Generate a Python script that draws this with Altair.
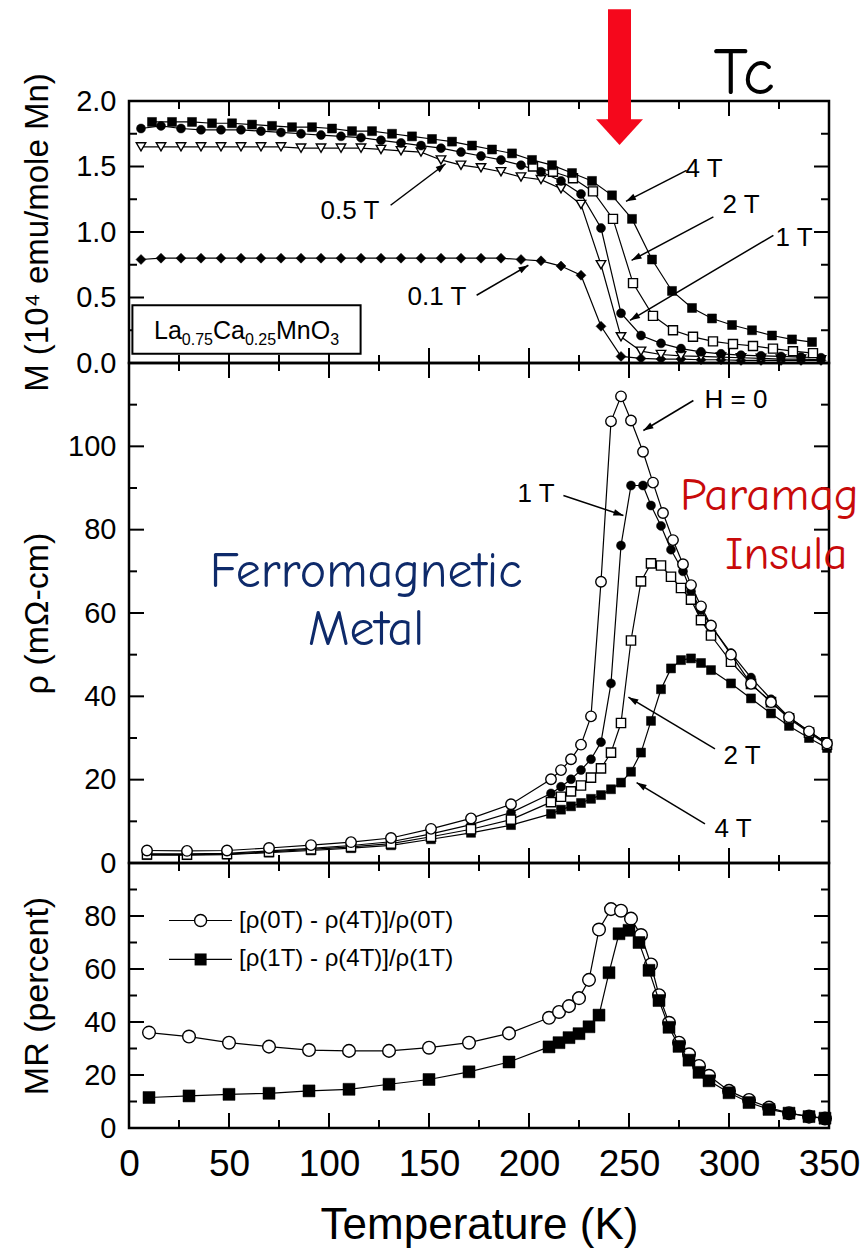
import math
import altair as alt
import pandas as pd

# ---------------- magnetisation M (10^4 emu / mole Mn) ----------------
T_M_FINE = [6, 16, 26, 36, 46, 56, 66, 76, 86, 96, 106, 116, 126, 136, 146, 156, 166, 176, 186, 196,
            206, 216, 226, 236, 246, 256, 266, 276, 286, 296, 306, 316, 326, 336, 346]
M_01T = [0.79, 0.80, 0.80, 0.80, 0.80, 0.80, 0.80, 0.80, 0.80, 0.80, 0.80, 0.80, 0.80, 0.80, 0.80, 0.80, 0.80, 0.80, 0.80, 0.79,
         0.78, 0.74, 0.67, 0.28, 0.05, 0.035, 0.03, 0.03, 0.025, 0.025, 0.02, 0.02, 0.02, 0.02, 0.02]
M_05T = [1.65, 1.65, 1.65, 1.65, 1.65, 1.65, 1.65, 1.65, 1.64, 1.64, 1.64, 1.64, 1.63, 1.62, 1.61, 1.55, 1.51, 1.49, 1.46, 1.42,
         1.40, 1.33, 1.21, 0.75, 0.20, 0.09, 0.065, 0.055, 0.05, 0.045, 0.04, 0.035, 0.03, 0.03, 0.025]
M_1T = [1.79, 1.81, 1.79, 1.78, 1.78, 1.78, 1.77, 1.76, 1.75, 1.74, 1.73, 1.72, 1.70, 1.68, 1.66, 1.64, 1.61, 1.58, 1.55, 1.51,
        1.46, 1.39, 1.29, 1.03, 0.38, 0.21, 0.15, 0.11, 0.085, 0.07, 0.06, 0.055, 0.05, 0.045, 0.04]
T_M_2T = [202, 212, 222, 232, 242, 252, 262, 272, 282, 292, 302, 312, 322, 332, 342]
M_2T = [1.50, 1.46, 1.41, 1.31, 1.10, 0.61, 0.36, 0.25, 0.20, 0.165, 0.145, 0.13, 0.11, 0.09, 0.075]
T_M_4T = [11.5, 21.5, 31.5, 41.5, 51.5, 61.5, 71.5, 81.5, 91.5, 101.5, 111.5, 121.5, 131.5, 141.5, 151.5, 161.5, 171.5,
          181.5, 191.5, 201.5, 211.5, 221.5, 231.5, 241.5, 251.5, 261.5, 271.5, 281.5, 291.5, 301.5, 311.5, 321.5, 331.5, 341.5]
M_4T = [1.84, 1.84, 1.84, 1.83, 1.83, 1.82, 1.81, 1.80, 1.80, 1.79, 1.77, 1.77, 1.75, 1.73, 1.71, 1.69, 1.66,
        1.63, 1.60, 1.55, 1.51, 1.45, 1.39, 1.28, 1.10, 0.79, 0.55, 0.42, 0.34, 0.29, 0.25, 0.21, 0.18, 0.16]

# ---------------- resistivity rho (mOhm-cm) ----------------
T_RHO_0T = [9, 29, 49, 70, 91, 111, 131, 151, 171, 191, 211, 216, 221, 226, 231, 236, 241, 246, 251, 257,
            262, 267, 272, 277, 281, 286, 291, 301, 311, 321, 330, 340, 349]
RHO_0T = [3.0, 2.9, 3.0, 3.6, 4.3, 5.0, 6.0, 8.2, 10.7, 14.1, 20.1, 22.3, 24.9, 28.4, 35.2, 67.5, 106.0, 112.0, 106.2, 98.7,
          91.3, 84.0, 77.5, 71.7, 66.7, 61.6, 57.0, 50.0, 43.0, 38.6, 35.0, 31.6, 28.7]
T_RHO_1T = [9, 29, 49, 70, 91, 111, 131, 151, 171, 191, 211, 216, 221, 226, 231, 236, 241, 246, 251, 257,
            261, 266, 271, 277, 281, 286, 291, 301, 311, 321, 330, 340, 349]
RHO_1T = [2.2, 2.2, 2.3, 2.9, 3.5, 4.2, 5.1, 7.0, 9.2, 12.1, 16.7, 18.3, 20.1, 22.3, 24.9, 29.0, 43.1, 76.2, 90.6, 90.6,
          85.8, 80.9, 75.2, 70.0, 65.2, 60.7, 56.9, 50.4, 44.5, 39.3, 35.0, 31.6, 28.7]
T_RHO_2T = [9, 29, 49, 70, 91, 111, 131, 151, 171, 191, 211, 216, 221, 226, 231, 236, 241, 246, 251, 256,
            261, 266, 271, 276, 281, 286, 291, 301, 311, 321, 330, 340, 349]
RHO_2T = [2.05, 2.0, 2.15, 2.65, 3.25, 3.85, 4.65, 6.3, 8.1, 10.4, 14.6, 15.9, 17.2, 18.6, 20.5, 22.7, 26.5, 33.6, 53.4, 67.6,
          71.9, 71.4, 68.7, 66.0, 63.2, 58.3, 54.6, 48.3, 43.0, 38.6, 34.7, 31.3, 28.4]
T_RHO_4T = [9, 29, 49, 70, 91, 111, 131, 151, 171, 191, 211, 216, 221, 226, 231, 236, 241, 246, 251, 256,
            261, 266, 271, 276, 281, 286, 291, 301, 311, 321, 330, 340, 349]
RHO_4T = [1.9, 1.9, 2.0, 2.5, 3.0, 3.55, 4.25, 5.7, 7.25, 9.1, 11.8, 12.8, 13.6, 14.4, 15.4, 16.3, 17.7, 19.3, 21.9, 26.5,
          34.1, 41.7, 46.7, 48.7, 49.1, 48.0, 46.3, 43.1, 39.5, 35.9, 32.9, 30.0, 27.6]

# ---------------- magnetoresistance MR (percent) ----------------
T_MR_0T = [10, 30, 50, 70, 90, 110, 130, 150, 170, 190, 210, 215, 220, 225, 230, 235, 241, 246, 251, 256,
           261, 265, 270, 275, 280, 285, 290, 300, 310, 320, 330, 340, 348]
MR_0T = [36.0, 34.5, 32.2, 30.7, 29.4, 29.1, 29.1, 30.3, 32.2, 35.7, 41.6, 43.8, 46.0, 49.0, 55.9, 74.9, 82.6, 82.0, 79.0, 72.8,
         61.7, 50.1, 39.7, 32.2, 27.8, 23.4, 19.7, 14.0, 10.6, 7.7, 5.6, 4.3, 3.6]
T_MR_1T = [10, 30, 50, 70, 90, 110, 130, 150, 170, 190, 210, 215, 220, 225, 230, 235, 240, 245, 250, 255,
           260, 265, 270, 275, 280, 285, 290, 300, 310, 320, 330, 340, 348]
MR_1T = [11.5, 12.1, 12.7, 13.1, 14.0, 14.6, 16.5, 18.3, 21.2, 24.9, 30.6, 32.2, 34.1, 35.6, 38.2, 42.6, 58.6, 73.3, 74.6, 70.0,
         59.5, 48.1, 38.0, 30.8, 25.6, 21.0, 17.8, 13.3, 9.6, 7.0, 5.6, 4.3, 3.7]

# ---------------- annotations (data coordinates) ----------------
M_LABELS = ["4 T", "2 T", "1 T", "0.5 T", "0.1 T"]
M_LABEL_T = [287.5, 306, 332.5, 110.5, 154]
M_LABEL_V = [1.48, 1.206, 0.954, 1.16, 0.504]
M_ARROW_T0 = [278.8, 292.2, 322.2, 130.8, 173.8]
M_ARROW_V0 = [1.471, 1.115, 0.975, 1.204, 0.517]
M_ARROW_T1 = [248.5, 251.3, 250.5, 158.3, 199.7]
M_ARROW_V1 = [1.234, 0.784, 0.326, 1.521, 0.746]

RHO_LABELS = ["H = 0", "1 T", "2 T", "4 T"]
RHO_LABEL_T = [303.5, 203.5, 306.5, 302]
RHO_LABEL_V = [111.1, 88.6, 25.7, 8.2]
RHO_ARROW_T0 = [282.2, 217.2, 293.0, 288.0]
RHO_ARROW_V0 = [111.0, 88.2, 27.4, 9.4]
RHO_ARROW_T1 = [257.2, 247.2, 249.7, 253.8]
RHO_ARROW_V1 = [103.8, 83.4, 39.8, 19.3]

TC_ARROW_T = [239.5, 251.0]
TC_ARROW_V = [2.70, 1.84, 1.664]
TC_TEXT = ["Tc"]
TC_TEXT_T = [307.5]
TC_TEXT_V = [2.053]

FM_TEXT = ["Ferromagnetic\nMetal"]
FM_T = [118.5]
FM_V = [66.2]
PM_TEXT = ["Paramagnetic", "Insulator"]
PM_T = [275.5, 298.0]
PM_V = [84.7, 70.6]

SAMPLE_PIECES = ["La", "0.75", "Ca", "0.25", "MnO", "3"]
SAMPLE_SUB = [False, True, False, True, False, True]
SAMPLE_T = [12.5]
SAMPLE_V = [0.183]
SAMPLE_BOX_T = [1.7, 115.8]
SAMPLE_BOX_V = [0.071, 0.44]

LEGEND_TEXT = ["[ρ(0T) - ρ(4T)]/ρ(0T)", "[ρ(1T) - ρ(4T)]/ρ(1T)"]
LEGEND_V = [78.3, 63.6]
LEGEND_LINE_T = [20, 51.5]
LEGEND_MARK_T = [35.8]
LEGEND_TEXT_T = [55]

# ---------------- styling / geometry ----------------
SANS = "Liberation Sans, Arial, Helvetica, sans-serif"
HAND = "Comic Sans MS, Comic Neue, Lato, sans-serif"
RED = "#F5081C"
NAVY = "#0E2A6A"
DARK_RED = "#C80A0A"

W = 700
H_TOP, H_MID, H_BOT = 262, 500, 265
T_DOM = [0, 350]
M_DOM = [0, 2.0]
RHO_DOM = [0, 120]
MR_DOM = [0, 100]
SX = W / (T_DOM[1] - T_DOM[0])
PLOT_LEFT = 130    # left edge of the plotting area on the page
PAGE_RIGHT = 862   # page edge; text running past it is truncated there

XS = alt.Scale(domain=T_DOM, nice=False, zero=False)
X_MAJOR = [0, 50, 100, 150, 200, 250, 300, 350]
X_MINOR = [25, 75, 125, 175, 225, 275, 325]
MAJOR_LEN, MINOR_LEN = 15, 8
HEAD = "M0,0L-1,3L1,3Z"          # arrowhead with its tip at the origin
TC_HEAD = "M0,0L-1,-1.1L1,-1.1Z"  # downward head of the Tc marker

ARIAL_W = {"L": .556, "a": .556, "C": .722, "M": .833, "n": .556, "O": .778,
           "0": .556, "2": .556, "3": .556, "5": .556, "7": .556, ".": .278}


def yscale(dom):
    return alt.Scale(domain=dom, nice=False, zero=False)


def xy(xf, yf, ys):
    return dict(x=alt.X(f"{xf}:Q", scale=XS, axis=None),
                y=alt.Y(f"{yf}:Q", scale=ys, axis=None))


def frame_ticks(ydom, height, y_major, y_minor):
    """Inward-pointing major/minor ticks on all four sides of a panel."""
    ys = yscale(ydom)
    out = []
    for vals, L in [(X_MAJOR, MAJOR_LEN), (X_MINOR, MINOR_LEN)]:
        base = alt.Chart(pd.DataFrame({"T": vals})).mark_rule(color="black", strokeWidth=2)
        xenc = alt.X("T:Q", scale=XS, axis=None)
        out.append(base.encode(x=xenc, y=alt.value(height), y2=alt.value(height - L)))
        out.append(base.encode(x=xenc, y=alt.value(0), y2=alt.value(L)))
    for vals, L in [(y_major, MAJOR_LEN), (y_minor, MINOR_LEN)]:
        base = alt.Chart(pd.DataFrame({"v": vals})).mark_rule(color="black", strokeWidth=2)
        yenc = alt.Y("v:Q", scale=ys, axis=None)
        out.append(base.encode(y=yenc, x=alt.value(0), x2=alt.value(L)))
        out.append(base.encode(y=yenc, x=alt.value(W), x2=alt.value(W - L)))
    return out


def label_layer(ydom, y_values, y_fmt, y_title, y_title_size, with_x):
    ys = yscale(ydom)
    helper = pd.DataFrame({"T": T_DOM, "v": ydom})
    y_axis = alt.Axis(orient="left", values=y_values, format=y_fmt, ticks=False, tickSize=0,
                      domain=False, grid=False, labelFont=SANS, labelFontSize=29,
                      labelColor="black", labelPadding=13, title=y_title, titleFont=SANS,
                      titleFontSize=y_title_size, titleFontWeight="normal", titleColor="black",
                      titleX=-92, titleBaseline="middle")
    if with_x:
        x_axis = alt.Axis(orient="bottom", values=X_MAJOR, format="d", ticks=False, tickSize=0,
                          domain=False, grid=False, labelFont=SANS, labelFontSize=37,
                          labelColor="black", labelPadding=18, labelFlush=False, labelOverlap=False,
                          title="Temperature (K)", titleFont=SANS, titleFontSize=44,
                          titleFontWeight="normal", titleColor="black", titleY=110,
                          titleBaseline="alphabetic")
        x_enc = alt.X("T:Q", scale=XS, axis=x_axis)
    else:
        x_enc = alt.X("T:Q", scale=XS, axis=None)
    return alt.Chart(helper).mark_point(opacity=0).encode(x=x_enc, y=alt.Y("v:Q", scale=ys, axis=y_axis))


def series(T, V, ys, shape, hollow, size):
    df = pd.DataFrame({"T": T, "v": V})
    line = alt.Chart(df).mark_line(color="black", strokeWidth=1.2).encode(**xy("T", "v", ys))
    if hollow:
        mk = alt.Chart(df).mark_point(shape=shape, filled=True, fill="white", stroke="black",
                                      strokeWidth=1.4, size=size, opacity=1)
    else:
        mk = alt.Chart(df).mark_point(shape=shape, filled=True, fill="black", stroke="black",
                                      strokeWidth=0.5, size=size, opacity=1)
    return [line, mk.encode(**xy("T", "v", ys))]


def arrows(ys, sy, t0, v0, t1, v1):
    ang = [(math.degrees(math.atan2((b - a) * SX, (d - c) * sy)) + 360) % 360
           for a, b, c, d in zip(t0, t1, v0, v1)]
    df = pd.DataFrame({"t0": t0, "v0": v0, "t1": t1, "v1": v1, "ang": ang})
    shaft = alt.Chart(df).mark_rule(color="black", strokeWidth=1.5).encode(
        x=alt.X("t0:Q", scale=XS, axis=None), y=alt.Y("v0:Q", scale=ys, axis=None),
        x2="t1:Q", y2="v1:Q")
    head = alt.Chart(df).mark_point(shape=HEAD, filled=True, color="black", size=44, opacity=1).encode(
        angle=alt.Angle("ang:Q", scale=None), **xy("t1", "v1", ys))
    return [shaft, head]


def text_labels(ys, txt, t, v, size=26):
    df = pd.DataFrame({"t": t, "v": v, "txt": txt})
    return alt.Chart(df).mark_text(font=SANS, fontSize=size, color="black", align="center",
                                   baseline="middle").encode(text="txt:N", **xy("t", "v", ys))


def panel(ticks, labels, rest, height):
    return (alt.layer(*ticks, labels, *rest)
            .resolve_axis(x="independent", y="independent")
            .properties(width=W, height=height))


# ---------------- top panel: M(T) ----------------
ys_m = yscale(M_DOM)
sy_m = H_TOP / (M_DOM[1] - M_DOM[0])
top_ticks = frame_ticks(M_DOM, H_TOP, [0.5, 1.0, 1.5], [0.25, 0.75, 1.25, 1.75])
top_labels = label_layer(M_DOM, [0, 0.5, 1.0, 1.5, 2.0], ".1f", "M (10⁴ emu/mole Mn)", 33, False)
top_layers = []

box_df = pd.DataFrame({"t0": [SAMPLE_BOX_T[0]], "t1": [SAMPLE_BOX_T[1]],
                       "v0": [SAMPLE_BOX_V[0]], "v1": [SAMPLE_BOX_V[1]]})
top_layers.append(alt.Chart(box_df).mark_rect(fill="white", stroke="black", strokeWidth=2).encode(
    x=alt.X("t0:Q", scale=XS, axis=None), x2="t1:Q",
    y=alt.Y("v0:Q", scale=ys_m, axis=None), y2="v1:Q"))
sample_df = pd.DataFrame({"t": SAMPLE_T, "v": SAMPLE_V})
offset = 0.0
for piece, sub in zip(SAMPLE_PIECES, SAMPLE_SUB):
    fs = 16 if sub else 25
    top_layers.append(alt.Chart(sample_df).mark_text(
        text=piece, font=SANS, fontSize=fs, color="black", align="left", baseline="alphabetic",
        dx=offset, dy=6 if sub else 0).encode(**xy("t", "v", ys_m)))
    offset += sum(ARIAL_W[c] for c in piece) * fs

top_layers += series(T_M_FINE, M_01T, ys_m, "diamond", False, 100)
top_layers += series(T_M_FINE, M_05T, ys_m, "triangle-down", True, 90)
top_layers += series(T_M_FINE, M_1T, ys_m, "circle", False, 81)
top_layers += series(T_M_2T, M_2T, ys_m, "square", True, 81)
top_layers += series(T_M_4T, M_4T, ys_m, "square", False, 81)
top_layers += arrows(ys_m, sy_m, M_ARROW_T0, M_ARROW_V0, M_ARROW_T1, M_ARROW_V1)
top_layers.append(text_labels(ys_m, M_LABELS, M_LABEL_T, M_LABEL_V))

tc_df = pd.DataFrame({"t0": [TC_ARROW_T[0]], "t1": [TC_ARROW_T[1]], "tm": [sum(TC_ARROW_T) / 2],
                      "top": [TC_ARROW_V[0]], "base": [TC_ARROW_V[1]], "tip": [TC_ARROW_V[2]]})
top_layers.append(alt.Chart(tc_df).mark_rect(color=RED).encode(
    x=alt.X("t0:Q", scale=XS, axis=None), x2="t1:Q",
    y=alt.Y("top:Q", scale=ys_m, axis=None), y2="base:Q"))
top_layers.append(alt.Chart(tc_df).mark_point(shape=TC_HEAD, filled=True, color=RED, size=2209,
                                              opacity=1).encode(**xy("tm", "tip", ys_m)))
tc_txt = pd.DataFrame({"t": TC_TEXT_T, "v": TC_TEXT_V, "txt": TC_TEXT})
top_layers.append(alt.Chart(tc_txt).mark_text(font=HAND, fontSize=66, color="black", align="center",
                                              baseline="alphabetic").encode(text="txt:N", **xy("t", "v", ys_m)))
top = panel(top_ticks, top_labels, top_layers, H_TOP)

# ---------------- middle panel: rho(T) ----------------
ys_r = yscale(RHO_DOM)
sy_r = H_MID / (RHO_DOM[1] - RHO_DOM[0])
mid_ticks = frame_ticks(RHO_DOM, H_MID, [20, 40, 60, 80, 100], [10, 30, 50, 70, 90, 110])
mid_labels = label_layer(RHO_DOM, [0, 20, 40, 60, 80, 100], "d", "ρ (mΩ-cm)", 34, False)
mid_layers = []
mid_layers += series(T_RHO_4T, RHO_4T, ys_r, "square", False, 81)
mid_layers += series(T_RHO_1T, RHO_1T, ys_r, "circle", False, 81)
mid_layers += series(T_RHO_2T, RHO_2T, ys_r, "square", True, 85)
mid_layers += series(T_RHO_0T, RHO_0T, ys_r, "circle", True, 110)
mid_layers += arrows(ys_r, sy_r, RHO_ARROW_T0, RHO_ARROW_V0, RHO_ARROW_T1, RHO_ARROW_V1)
mid_layers.append(text_labels(ys_r, RHO_LABELS, RHO_LABEL_T, RHO_LABEL_V))

fm_df = pd.DataFrame({"t": FM_T, "v": FM_V, "txt": FM_TEXT})
mid_layers.append(alt.Chart(fm_df).mark_text(font=HAND, fontSize=50, color=NAVY, align="center",
                                             baseline="alphabetic", lineBreak="\n", lineHeight=58)
                  .encode(text="txt:N", **xy("t", "v", ys_r)))
# the insulating-phase caption runs off the right edge of the page
for txt, t, v in zip(PM_TEXT, PM_T, PM_V):
    left_px = (t - T_DOM[0]) * SX + PLOT_LEFT
    pdf = pd.DataFrame({"t": [t], "v": [v], "txt": [txt]})
    mid_layers.append(alt.Chart(pdf).mark_text(font=HAND, fontSize=47, color=DARK_RED, align="left",
                                               baseline="alphabetic", limit=PAGE_RIGHT - left_px - 1,
                                               ellipsis="\u200b")
                      .encode(text="txt:N", **xy("t", "v", ys_r)))
mid = panel(mid_ticks, mid_labels, mid_layers, H_MID)

# ---------------- bottom panel: MR(T) ----------------
ys_b = yscale(MR_DOM)
bot_ticks = frame_ticks(MR_DOM, H_BOT, [20, 40, 60, 80], [10, 30, 50, 70, 90])
bot_labels = label_layer(MR_DOM, [0, 20, 40, 60, 80], "d", "MR (percent)", 34, True)
bot_layers = []
bot_layers += series(T_MR_0T, MR_0T, ys_b, "circle", True, 160)
bot_layers += series(T_MR_1T, MR_1T, ys_b, "square", False, 144)

leg_df = pd.DataFrame({"t0": [LEGEND_LINE_T[0]] * 2, "t1": [LEGEND_LINE_T[1]] * 2,
                       "tm": LEGEND_MARK_T * 2, "tt": LEGEND_TEXT_T * 2,
                       "v": LEGEND_V, "txt": LEGEND_TEXT, "row": [0, 1]})
bot_layers.append(alt.Chart(leg_df).mark_rule(color="black", strokeWidth=1.2).encode(
    x=alt.X("t0:Q", scale=XS, axis=None), x2="t1:Q", y=alt.Y("v:Q", scale=ys_b, axis=None)))
bot_layers.append(alt.Chart(leg_df).transform_filter("datum.row == 0").mark_point(
    shape="circle", filled=True, fill="white", stroke="black", strokeWidth=1.4, size=144, opacity=1
).encode(**xy("tm", "v", ys_b)))
bot_layers.append(alt.Chart(leg_df).transform_filter("datum.row == 1").mark_point(
    shape="square", filled=True, fill="black", size=144, opacity=1).encode(**xy("tm", "v", ys_b)))
bot_layers.append(alt.Chart(leg_df).mark_text(font=SANS, fontSize=24, color="black", align="left",
                                              baseline="middle").encode(text="txt:N", **xy("tt", "v", ys_b)))
bot = panel(bot_ticks, bot_labels, bot_layers, H_BOT)

chart = (alt.vconcat(top, mid, bot, spacing=0, bounds="flush")
         .properties(padding={"left": 18, "top": 8, "right": 0, "bottom": 2}, background="white")
         .configure_view(stroke="black", strokeWidth=2.5))

chart.save("out.html", embed_options={"renderer": "svg", "actions": False})
